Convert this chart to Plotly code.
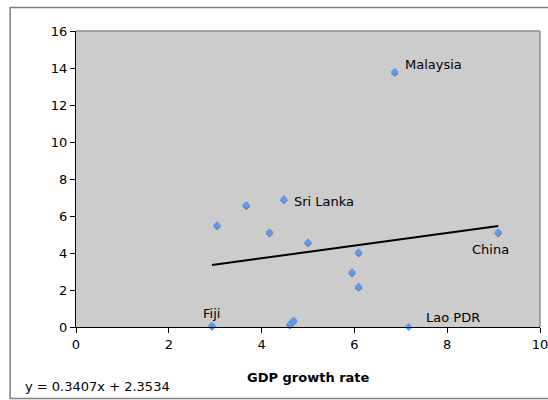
import plotly.graph_objects as go

# GDP growth rate (x) against the second indicator (y), one point per economy
gdp_growth = [6.87, 4.48, 3.67, 3.04, 4.17, 5.00, 6.09, 5.95, 6.09, 9.10, 2.93, 4.61, 4.69, 7.17]
indicator = [13.80, 6.92, 6.60, 5.52, 5.13, 4.59, 4.05, 2.97, 2.19, 5.13, 0.09, 0.16, 0.36, 0.00]
names = ["Malaysia", "Sri Lanka", "", "", "", "", "", "", "", "China", "Fiji", "", "", "Lao PDR"]

# linear trendline coefficients
slope = 0.3407
intercept = 2.3534

x_ticks = [0, 2, 4, 6, 8, 10]
y_ticks = [0, 2, 4, 6, 8, 10, 12, 14, 16]

# label offsets in pixels: (xshift, yshift, xanchor)
label_style = {
    "Malaysia": (8, 7, "left"),
    "Sri Lanka": (8, -3, "left"),
    "China": (-8, -17, "center"),
    "Fiji": (0, 12, "center"),
    "Lao PDR": (15, 10, "left"),
}

font = dict(family="DejaVu Sans, Verdana, sans-serif", size=13, color="#000000")

fig = go.Figure()

# soft shadow under each marker
fig.add_trace(go.Scatter(
    x=gdp_growth, y=[v - 0.08 for v in indicator], mode="markers",
    marker=dict(symbol="diamond", size=6, color="#7a7a7a"),
    hoverinfo="skip", showlegend=False, cliponaxis=False,
))
fig.add_trace(go.Scatter(
    x=gdp_growth, y=indicator, mode="markers",
    marker=dict(symbol="diamond", size=6, color="#5b9bf0"),
    showlegend=False, cliponaxis=False,
))

x_lo, x_hi = min(gdp_growth), max(gdp_growth)
fig.add_trace(go.Scatter(
    x=[x_lo, x_hi], y=[slope * x_lo + intercept, slope * x_hi + intercept],
    mode="lines", line=dict(color="#000000", width=2),
    hoverinfo="skip", showlegend=False,
))

for xv, yv, name in zip(gdp_growth, indicator, names):
    if not name:
        continue
    xs, ys, xa = label_style[name]
    fig.add_annotation(x=xv, y=yv, text=name, showarrow=False,
                       xanchor=xa, yanchor="middle", xshift=xs, yshift=ys,
                       font=font)

fig.add_annotation(xref="paper", yref="paper", x=0.5, y=-0.169,
                   text="<b>GDP growth rate</b>", showarrow=False,
                   xanchor="center", yanchor="middle", font=font)
fig.add_annotation(xref="paper", yref="paper", x=-0.115, y=-0.20,
                   text=f"y = {slope}x + {intercept}", showarrow=False,
                   xanchor="left", yanchor="middle", font=font)

# outer chart frame (its right side runs past the page edge)
fig.add_shape(type="rect", xref="paper", yref="paper",
              x0=-0.142, x1=1.06, y0=-0.2416, y1=1.079,
              line=dict(color="#7f7f7f", width=1.5), layer="below")
# plot-area border on the top and right
fig.add_shape(type="line", xref="paper", yref="paper", x0=0, x1=1, y0=1, y1=1,
              line=dict(color="#8c8c8c", width=1.5))
fig.add_shape(type="line", xref="paper", yref="paper", x0=1, x1=1, y0=0, y1=1,
              line=dict(color="#8c8c8c", width=1.5))

axis_common = dict(ticks="outside", ticklen=5, tickcolor="#000000",
                   showline=True, linecolor="#000000", linewidth=1,
                   showgrid=False, zeroline=False, tickfont=font,
                   automargin=False, ticklabeloverflow="allow")
fig.update_xaxes(range=[0, 10], tickvals=x_ticks, **axis_common)
fig.update_yaxes(range=[0, 16], tickvals=y_ticks, **axis_common)

fig.update_layout(
    width=548, height=400,
    margin=dict(l=76, r=8, t=31, b=73),
    paper_bgcolor="#ffffff", plot_bgcolor="#cccccc",
    font=font,
)

fig.write_html("out.html")
